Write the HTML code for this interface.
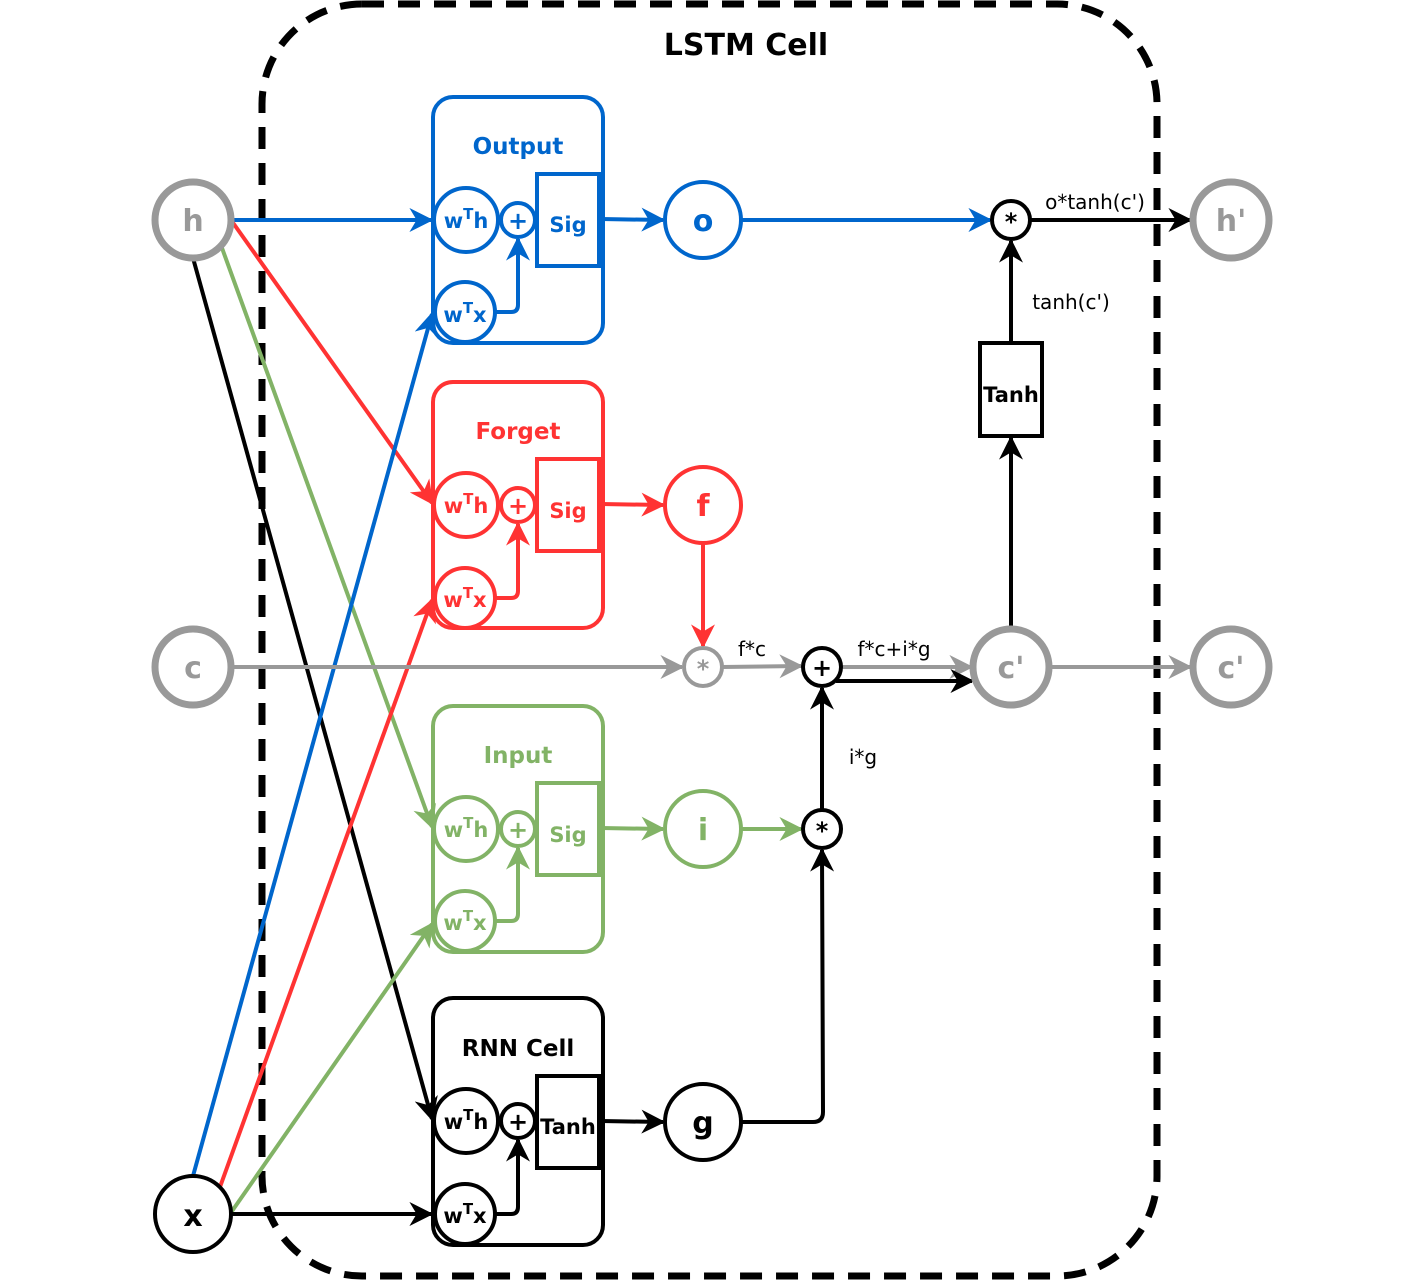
<!DOCTYPE html>
<html><head><meta charset="utf-8"><style>body{margin:0;background:#fff}svg{display:block}text{font-family:"DejaVu Sans","Liberation Sans",sans-serif}</style></head><body>
<svg width="1426" height="1280" viewBox="0 0 1426 1280" xmlns="http://www.w3.org/2000/svg">
<defs>
<marker id="ab" viewBox="0 0 10 10" refX="9" refY="5" markerWidth="6" markerHeight="6" markerUnits="strokeWidth" orient="auto"><path d="M0,0L10,5L0,10L3,5z" fill="#0066CC"/></marker>
<marker id="ar" viewBox="0 0 10 10" refX="9" refY="5" markerWidth="6" markerHeight="6" markerUnits="strokeWidth" orient="auto"><path d="M0,0L10,5L0,10L3,5z" fill="#FF3333"/></marker>
<marker id="ag" viewBox="0 0 10 10" refX="9" refY="5" markerWidth="6" markerHeight="6" markerUnits="strokeWidth" orient="auto"><path d="M0,0L10,5L0,10L3,5z" fill="#82B366"/></marker>
<marker id="ak" viewBox="0 0 10 10" refX="9" refY="5" markerWidth="6" markerHeight="6" markerUnits="strokeWidth" orient="auto"><path d="M0,0L10,5L0,10L3,5z" fill="#000"/></marker>
<marker id="ay" viewBox="0 0 10 10" refX="9" refY="5" markerWidth="6" markerHeight="6" markerUnits="strokeWidth" orient="auto"><path d="M0,0L10,5L0,10L3,5z" fill="#999"/></marker>
</defs>
<rect x="262" y="4" width="895" height="1272" rx="100" fill="none" stroke="#000" stroke-width="7" stroke-dasharray="22,14"/>
<text x="746" y="55" font-size="30" font-weight="bold" text-anchor="middle">LSTM Cell</text>

<!-- blocks -->
<g font-weight="bold" text-anchor="middle" fill="none" stroke-width="4">
<g stroke="#0066CC"><rect x="433" y="97" width="170" height="246" rx="20" fill="#fff"/></g>
<g stroke="#FF3333"><rect x="433" y="382" width="170" height="246" rx="20" fill="#fff"/></g>
<g stroke="#82B366"><rect x="433" y="706" width="170" height="246" rx="20" fill="#fff"/></g>
<g stroke="#000"><rect x="433" y="998" width="170" height="247" rx="20" fill="#fff"/></g>
</g>

<!-- input lines -->
<g stroke-width="4" fill="none">
<line x1="231" y1="220" x2="431" y2="220" stroke="#0066CC" marker-end="url(#ab)"/>
<line x1="231" y1="220" x2="432" y2="503" stroke="#FF3333" marker-end="url(#ar)"/>
<line x1="222" y1="248" x2="432" y2="827" stroke="#82B366" marker-end="url(#ag)"/>
<line x1="193" y1="258" x2="432" y2="1119" stroke="#000" marker-end="url(#ak)"/>
<line x1="193" y1="1176" x2="432" y2="314" stroke="#0066CC" marker-end="url(#ab)"/>
<line x1="220" y1="1187" x2="432" y2="600" stroke="#FF3333" marker-end="url(#ar)"/>
<line x1="230" y1="1214" x2="432" y2="924" stroke="#82B366" marker-end="url(#ag)"/>
<line x1="231" y1="1214" x2="431" y2="1214" stroke="#000" marker-end="url(#ak)"/>
</g>

<!-- block internals -->
<g font-weight="bold" text-anchor="middle" stroke-width="4">
<g stroke="#0066CC" fill="#0066CC">
<text x="518" y="154" font-size="23" stroke="none">Output</text>
<path d="M495,312 H511 Q518,312 518,305 V239" fill="none" marker-end="url(#ab)"/>
<circle cx="466" cy="220" r="32" fill="#fff"/><circle cx="518" cy="220" r="17" fill="#fff"/>
<rect x="537" y="174" width="62" height="92" fill="#fff"/><circle cx="465" cy="312" r="30" fill="#fff"/>
<g stroke="none" font-size="21"><text x="466" y="228">w<tspan dy="-9" font-size="15">T</tspan><tspan dy="9">h</tspan></text><text x="518" y="229" font-size="24">+</text><text x="568" y="232">Sig</text><text x="465" y="322">w<tspan dy="-9" font-size="15">T</tspan><tspan dy="9">x</tspan></text></g>
</g>
<g stroke="#FF3333" fill="#FF3333">
<text x="518" y="439" font-size="23" stroke="none">Forget</text>
<path d="M495,598 H511 Q518,598 518,591 V524" fill="none" marker-end="url(#ar)"/>
<circle cx="466" cy="505" r="32" fill="#fff"/><circle cx="518" cy="505" r="17" fill="#fff"/>
<rect x="537" y="459" width="62" height="92" fill="#fff"/><circle cx="465" cy="598" r="30" fill="#fff"/>
<g stroke="none" font-size="21"><text x="466" y="513">w<tspan dy="-9" font-size="15">T</tspan><tspan dy="9">h</tspan></text><text x="518" y="514" font-size="24">+</text><text x="568" y="518">Sig</text><text x="465" y="607">w<tspan dy="-9" font-size="15">T</tspan><tspan dy="9">x</tspan></text></g>
</g>
<g stroke="#82B366" fill="#82B366">
<text x="518" y="763" font-size="23" stroke="none">Input</text>
<path d="M495,921 H511 Q518,921 518,914 V848" fill="none" marker-end="url(#ag)"/>
<circle cx="466" cy="829" r="32" fill="#fff"/><circle cx="518" cy="829" r="17" fill="#fff"/>
<rect x="537" y="783" width="62" height="92" fill="#fff"/><circle cx="465" cy="921" r="30" fill="#fff"/>
<g stroke="none" font-size="21"><text x="466" y="837">w<tspan dy="-9" font-size="15">T</tspan><tspan dy="9">h</tspan></text><text x="518" y="838" font-size="24">+</text><text x="568" y="842">Sig</text><text x="465" y="930">w<tspan dy="-9" font-size="15">T</tspan><tspan dy="9">x</tspan></text></g>
</g>
<g stroke="#000" fill="#000">
<text x="518" y="1056" font-size="23" stroke="none">RNN Cell</text>
<path d="M495,1214 H511 Q518,1214 518,1207 V1140" fill="none" marker-end="url(#ak)"/>
<circle cx="466" cy="1121" r="32" fill="#fff"/><circle cx="518" cy="1121" r="17" fill="#fff"/>
<rect x="537" y="1076" width="62" height="92" fill="#fff"/><circle cx="465" cy="1214" r="30" fill="#fff"/>
<g stroke="none" font-size="21"><text x="466" y="1129">w<tspan dy="-9" font-size="15">T</tspan><tspan dy="9">h</tspan></text><text x="518" y="1130" font-size="24">+</text><text x="568" y="1134">Tanh</text><text x="465" y="1223">w<tspan dy="-9" font-size="15">T</tspan><tspan dy="9">x</tspan></text></g>
</g>
</g>

<!-- connectors -->
<g stroke-width="4" fill="none">
<line x1="601" y1="219" x2="663" y2="220" stroke="#0066CC" marker-end="url(#ab)"/>
<line x1="741" y1="220" x2="990" y2="220" stroke="#0066CC" marker-end="url(#ab)"/>
<line x1="1030" y1="220" x2="1190" y2="220" stroke="#000" marker-end="url(#ak)"/>
<line x1="1011" y1="343" x2="1011" y2="241" stroke="#000" marker-end="url(#ak)"/>
<line x1="1011" y1="627" x2="1011" y2="438" stroke="#000" marker-end="url(#ak)"/>
<line x1="601" y1="504" x2="663" y2="505" stroke="#FF3333" marker-end="url(#ar)"/>
<line x1="703" y1="543" x2="703" y2="646" stroke="#FF3333" marker-end="url(#ar)"/>
<line x1="231" y1="667" x2="682" y2="667" stroke="#999" marker-end="url(#ay)"/>
<line x1="722" y1="667" x2="801" y2="666" stroke="#999" marker-end="url(#ay)"/>
<line x1="841" y1="667" x2="971" y2="667" stroke="#999" marker-end="url(#ay)"/>
<line x1="836" y1="681" x2="972" y2="681" stroke="#000" marker-end="url(#ak)"/>
<line x1="1049" y1="667" x2="1190" y2="667" stroke="#999" marker-end="url(#ay)"/>
<line x1="601" y1="828" x2="663" y2="829" stroke="#82B366" marker-end="url(#ag)"/>
<line x1="741" y1="829" x2="801" y2="829" stroke="#82B366" marker-end="url(#ag)"/>
<line x1="822" y1="810" x2="822" y2="688" stroke="#000" marker-end="url(#ak)"/>
<line x1="601" y1="1121" x2="663" y2="1122" stroke="#000" marker-end="url(#ak)"/>
<path d="M741,1122 H813 Q823,1122 823,1112 L822,850" stroke="#000" marker-end="url(#ak)"/>
</g>

<!-- nodes -->
<g font-weight="bold" text-anchor="middle" fill="#fff">
<circle cx="193" cy="220" r="38" stroke="#999" stroke-width="7"/>
<circle cx="193" cy="667" r="38" stroke="#999" stroke-width="7"/>
<circle cx="193" cy="1214" r="38" stroke="#000" stroke-width="4"/>
<circle cx="1231" cy="220" r="38" stroke="#999" stroke-width="7"/>
<circle cx="1231" cy="667" r="38" stroke="#999" stroke-width="7"/>
<circle cx="1011" cy="667" r="38" stroke="#999" stroke-width="7"/>
<circle cx="703" cy="220" r="38" stroke="#0066CC" stroke-width="4"/>
<circle cx="703" cy="505" r="38" stroke="#FF3333" stroke-width="4"/>
<circle cx="703" cy="829" r="38" stroke="#82B366" stroke-width="4"/>
<circle cx="703" cy="1122" r="38" stroke="#000" stroke-width="4"/>
<circle cx="1011" cy="220" r="19" stroke="#000" stroke-width="4"/>
<circle cx="822" cy="667" r="19" stroke="#000" stroke-width="4"/>
<circle cx="822" cy="829" r="19" stroke="#000" stroke-width="4"/>
<circle cx="703" cy="667" r="19" stroke="#999" stroke-width="4"/>
<rect x="980" y="343" width="62" height="93" stroke="#000" stroke-width="4"/>
<g font-size="30">
<text x="193" y="231" fill="#999">h</text>
<text x="193" y="678" fill="#999">c</text>
<text x="193" y="1226" fill="#000">x</text>
<text x="1231" y="231" fill="#999">h'</text>
<text x="1231" y="678" fill="#999">c'</text>
<text x="1011" y="678" fill="#999">c'</text>
<text x="703" y="231" fill="#0066CC">o</text>
<text x="703" y="516" fill="#FF3333">f</text>
<text x="703" y="840" fill="#82B366">i</text>
<text x="703" y="1133" fill="#000">g</text>
</g>
<g font-size="24"><text x="1011" y="230" fill="#000">*</text><text x="822" y="676" fill="#000">+</text><text x="822" y="839" fill="#000">*</text><text x="703" y="677" fill="#999">*</text></g>
<text x="1011" y="402" font-size="21" fill="#000">Tanh</text>
</g>
<g font-size="20" fill="#000" text-anchor="middle">
<text x="1095" y="209">o*tanh(c')</text>
<text x="1071" y="309">tanh(c')</text>
<text x="752" y="656">f*c</text>
<text x="894" y="656">f*c+i*g</text>
<text x="863" y="764">i*g</text>
</g>
</svg>
</body></html>
